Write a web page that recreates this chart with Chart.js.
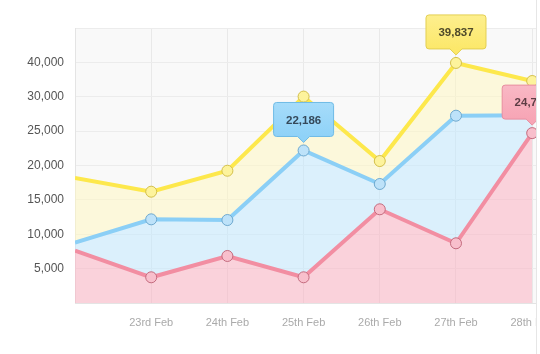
<!DOCTYPE html>
<html>
<head>
<meta charset="utf-8">
<script src="https://cdn.jsdelivr.net/npm/chart.js@4.4.1/dist/chart.umd.min.js"></script>
<style>
  html, body { margin: 0; padding: 0; background: #fff; overflow: hidden; }
  .wrap { width: 536px; height: 354px; overflow: hidden; border-right: 1px solid #e6e6e6; }
</style>
</head>
<body>
<div class="wrap"><canvas id="chart" width="567" height="354"></canvas></div>
<script>
// categories and values
const days = ['22nd Feb', '23rd Feb', '24th Feb', '25th Feb', '26th Feb', '27th Feb', '28th Feb'];
const yTickValues = [0, 5000, 10000, 15000, 20000, 25000, 30000, 40000, 50000];
const yTickLabels = ['', '5,000', '10,000', '15,000', '20,000', '25,000', '30,000', '40,000', ''];
const yellowValues = [18180, 16190, 19240, 30050, 20650, 39837, 34580];
const blueValues = [8770, 12170, 12070, 22186, 17310, 27245, 27300];
const pinkValues = [7610, 3740, 6840, 3740, 13630, 8685, 24710];
// which points carry a value bubble
const callouts = [
  { series: 'Blue', day: 3 },
  { series: 'Yellow', day: 5 },
  { series: 'Pink', day: 6 }
];

const FONT = '"Liberation Sans", Arial, Helvetica, sans-serif';

// the axis labels are evenly spaced but not evenly valued, so map a value
// onto the tick index it falls between
function toAxis(v) {
  for (let k = 0; k < yTickValues.length - 1; k++) {
    const a = yTickValues[k], b = yTickValues[k + 1];
    if (v <= b) return k + (v - a) / (b - a);
  }
  return yTickValues.length - 1;
}

const points = vals => vals.map((v, i) => ({ x: i, y: toAxis(v), raw: v }));

const styles = {
  Pink:   { line: '#f28ea2', fill: 'rgba(251,171,189,0.5)', dot: '#f8bfcc', dotBorder: '#c46b7e', box: '#f7a5b5', boxTop: '#f9b8c5', boxBorder: '#e88ea0', text: '#5e3d45' },
  Blue:   { line: '#8bcff6', fill: 'rgba(190,231,255,0.5)', dot: '#bde2f9', dotBorder: '#6ea9cf', box: '#8fd2f8', boxTop: '#a6dcfa', boxBorder: '#6fbbe6', text: '#35495a' },
  Yellow: { line: '#fde84c', fill: 'rgba(255,248,190,0.5)', dot: '#fdf39c', dotBorder: '#d4c04a', box: '#fce86a', boxTop: '#fdef8e', boxBorder: '#e3cf52', text: '#4f4a2a' }
};

function makeSet(name, vals, fill) {
  const s = styles[name];
  return {
    label: name,
    data: points(vals),
    borderColor: s.line,
    backgroundColor: s.fill,
    borderWidth: 4,
    fill: fill,
    tension: 0,
    pointRadius: ctx => ctx.dataIndex === 0 ? 0 : 5.5,
    pointBackgroundColor: s.dot,
    pointBorderColor: s.dotBorder,
    pointBorderWidth: 1
  };
}

const plotBg = {
  id: 'plotBg',
  beforeDraw(chart) {
    const { ctx, chartArea: a } = chart;
    ctx.save();
    ctx.fillStyle = '#f9f9f9';
    ctx.fillRect(a.left, a.top, a.right - a.left, a.bottom - a.top);
    ctx.restore();
  }
};

const bubbles = {
  id: 'bubbles',
  afterDatasetsDraw(chart) {
    const ctx = chart.ctx;
    callouts.forEach(c => {
      const di = chart.data.datasets.findIndex(d => d.label === c.series);
      const pt = chart.getDatasetMeta(di).data[c.day];
      const s = styles[c.series];
      const value = chart.data.datasets[di].data[c.day].raw;
      const w = 60, h = 34, caret = 6, gap = 8;
      const tipY = pt.y - gap;
      const bottom = tipY - caret;
      const top = bottom - h;
      const left = pt.x - w / 2;
      ctx.save();
      const g = ctx.createLinearGradient(0, top, 0, bottom);
      g.addColorStop(0, s.boxTop);
      g.addColorStop(1, s.box);
      ctx.beginPath();
      const r = 3;
      ctx.moveTo(left + r, top);
      ctx.lineTo(left + w - r, top);
      ctx.quadraticCurveTo(left + w, top, left + w, top + r);
      ctx.lineTo(left + w, bottom - r);
      ctx.quadraticCurveTo(left + w, bottom, left + w - r, bottom);
      ctx.lineTo(pt.x + caret, bottom);
      ctx.lineTo(pt.x, tipY);
      ctx.lineTo(pt.x - caret, bottom);
      ctx.lineTo(left + r, bottom);
      ctx.quadraticCurveTo(left, bottom, left, bottom - r);
      ctx.lineTo(left, top + r);
      ctx.quadraticCurveTo(left, top, left + r, top);
      ctx.closePath();
      ctx.fillStyle = g;
      ctx.fill();
      ctx.strokeStyle = s.boxBorder;
      ctx.lineWidth = 1;
      ctx.stroke();
      ctx.fillStyle = s.text;
      ctx.font = 'bold 11.5px ' + FONT;
      ctx.textAlign = 'center';
      ctx.textBaseline = 'middle';
      ctx.fillText(value.toLocaleString('en-US'), pt.x, top + h / 2 + 1);
      ctx.restore();
    });
  }
};

new Chart(document.getElementById('chart'), {
  type: 'line',
  data: {
    datasets: [
      makeSet('Pink', pinkValues, 'origin'),
      makeSet('Blue', blueValues, '-1'),
      makeSet('Yellow', yellowValues, '-1')
    ]
  },
  options: {
    responsive: false,
    animation: false,
    layout: { padding: { top: 28, right: 0, bottom: 0, left: 0 } },
    plugins: { legend: { display: false }, tooltip: { enabled: false } },
    scales: {
      x: {
        type: 'linear',
        min: 0,
        max: 6.1,
        afterBuildTicks: s => { s.ticks = days.map((d, i) => ({ value: i })); },
        afterFit: s => { s.height = 51; },
        grid: { color: '#e9e9e9', drawTicks: false },
        border: { color: '#e4e4e4' },
        ticks: {
          padding: 13,
          color: '#aaaaaa',
          font: { family: FONT, size: 11 },
          callback: v => v === 0 ? '' : days[v]
        }
      },
      y: {
        min: 0,
        max: 8,
        afterBuildTicks: s => { s.ticks = yTickLabels.map((l, i) => ({ value: i })); },
        afterFit: s => { s.width = 75; },
        grid: { color: '#ececec', drawTicks: false },
        border: { color: '#e4e4e4' },
        ticks: {
          padding: 11,
          color: '#555555',
          font: { family: FONT, size: 12 },
          callback: v => yTickLabels[v]
        }
      }
    }
  },
  plugins: [plotBg, bubbles]
});
</script>
</body>
</html>
